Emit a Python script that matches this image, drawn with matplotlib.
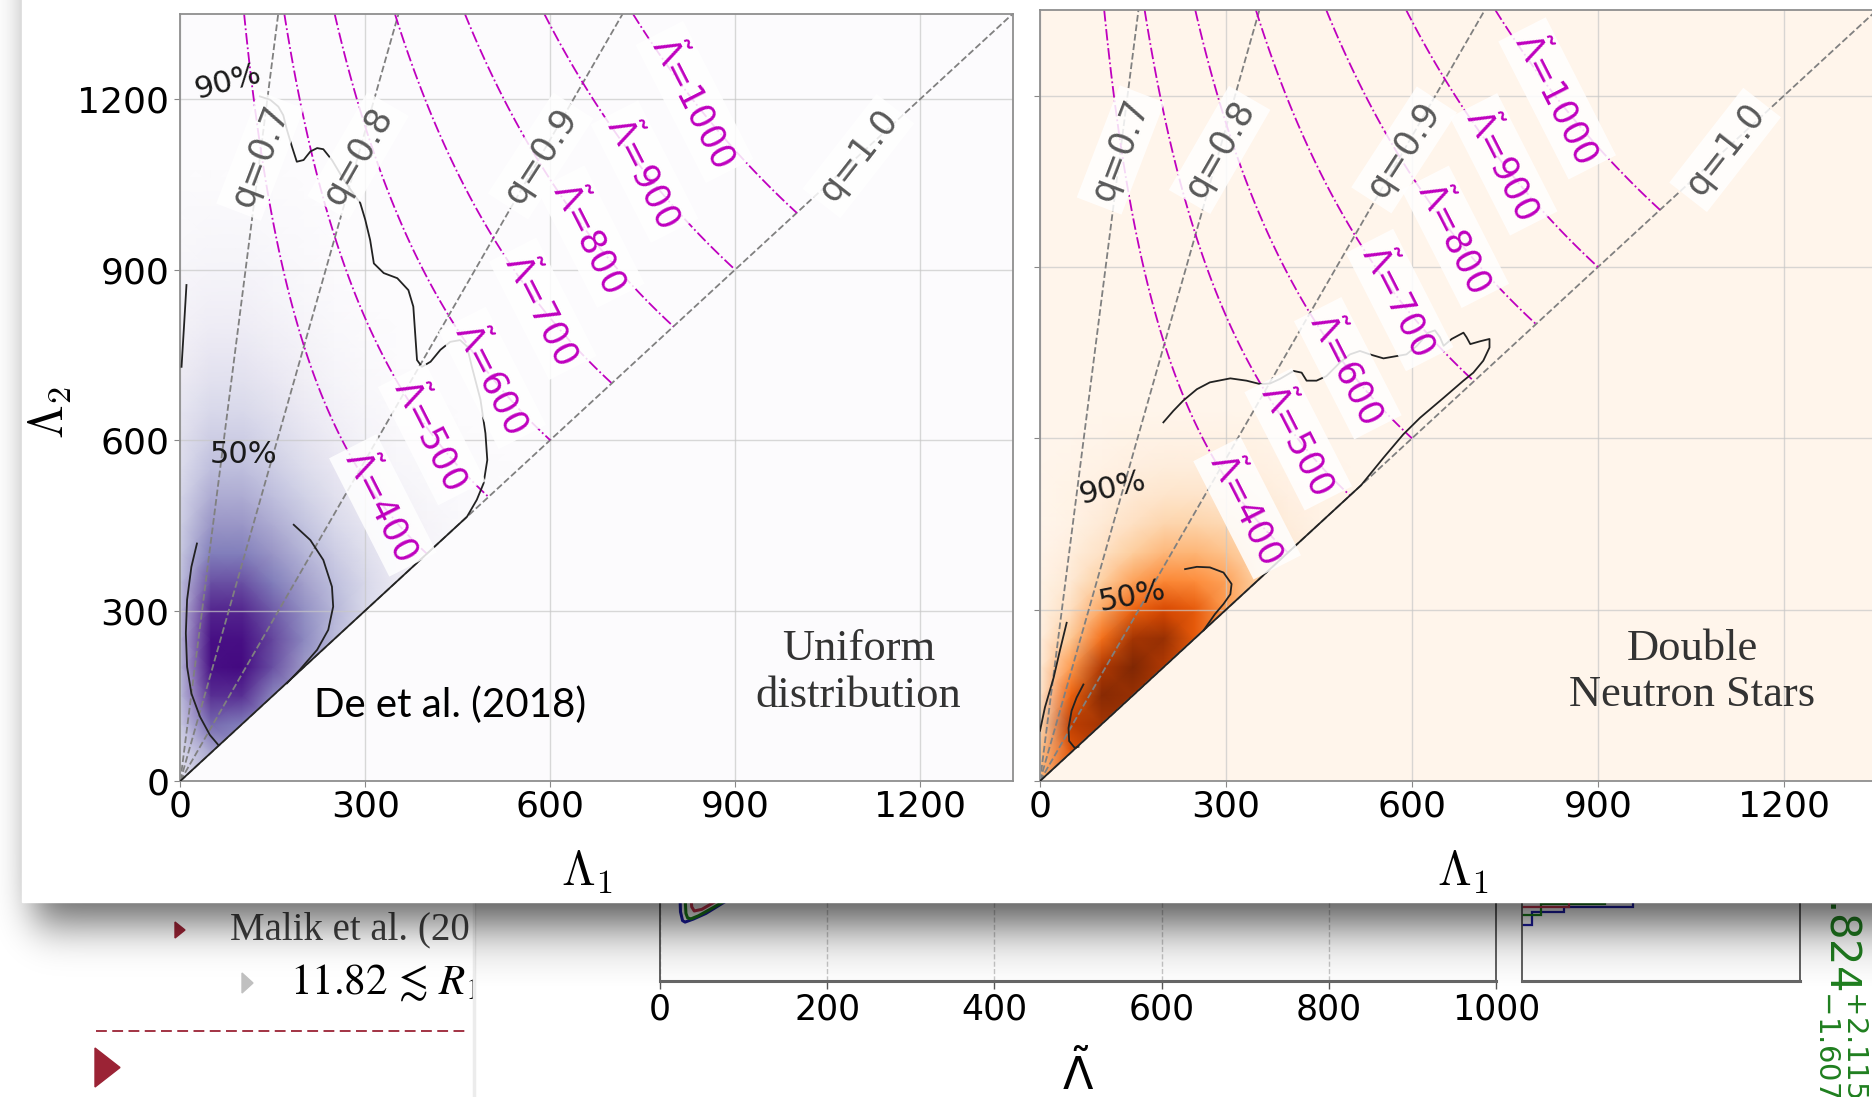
import numpy as np
import matplotlib
matplotlib.use("Agg")
import matplotlib.pyplot as plt
from matplotlib.patches import Rectangle, Polygon

# ---------------------------------------------------------------- data
lam_ticks = [0, 300, 600, 900, 1200]
lam_max = 1350
q_values = [0.7, 0.8, 0.9, 1.0]
lamt_levels = [400, 500, 600, 700, 800, 900, 1000]

# posterior density on a 50 x 50 node grid; row k is Lambda_2 = 50 k,
# entries run over Lambda_1 = 0, 50, ... up to the equal-Lambda diagonal
# (rows not listed are empty)
dens_lam1 = np.arange(0, 651, 50)
dens_lam2 = np.arange(0, 1351, 50)

uniform_density = [
    [0.15],
    [0.25, 0.45],
    [0.32, 0.68, 0.62],
    [0.38, 0.85, 0.85, 0.58],
    [0.40, 0.95, 0.97, 0.75, 0.50],
    [0.40, 0.95, 0.95, 0.78, 0.58, 0.38],
    [0.38, 0.88, 0.88, 0.72, 0.55, 0.40, 0.26],
    [0.36, 0.75, 0.75, 0.62, 0.48, 0.36, 0.26, 0.15],
    [0.33, 0.62, 0.62, 0.52, 0.41, 0.31, 0.22, 0.14, 0.07],
    [0.30, 0.52, 0.52, 0.44, 0.35, 0.26, 0.18, 0.11, 0.06, 0.03],
    [0.27, 0.44, 0.44, 0.37, 0.29, 0.21, 0.14, 0.08, 0.04, 0.02, 0.01],
    [0.24, 0.37, 0.37, 0.31, 0.24, 0.17, 0.10, 0.05, 0.03, 0.01, 0.01, 0.00],
    [0.21, 0.31, 0.31, 0.26, 0.19, 0.13, 0.07, 0.03, 0.02, 0.01, 0.00, 0.00, 0.00],
    [0.18, 0.26, 0.26, 0.21, 0.15, 0.10, 0.05, 0.02, 0.01, 0.00, 0.00, 0.00, 0.00, 0.00],
    [0.15, 0.21, 0.21, 0.17, 0.12, 0.07, 0.03, 0.01],
    [0.12, 0.17, 0.17, 0.13, 0.09, 0.05, 0.02],
    [0.09, 0.13, 0.13, 0.10, 0.06, 0.03, 0.01],
    [0.07, 0.10, 0.10, 0.07, 0.04, 0.02],
    [0.05, 0.07, 0.07, 0.05, 0.03, 0.01],
    [0.03, 0.05, 0.05, 0.03, 0.02],
    [0.02, 0.03, 0.03, 0.02, 0.01],
    [0.01, 0.01, 0.01, 0.01],
]

dns_density = [
    [0.35],
    [0.30, 0.70],
    [0.20, 0.82, 0.88],
    [0.12, 0.65, 0.97, 0.92],
    [0.08, 0.45, 0.85, 1.00, 0.85],
    [0.05, 0.28, 0.60, 0.88, 0.92, 0.68],
    [0.03, 0.17, 0.40, 0.65, 0.75, 0.68, 0.45],
    [0.02, 0.10, 0.25, 0.42, 0.52, 0.50, 0.42, 0.25],
    [0.01, 0.06, 0.15, 0.26, 0.34, 0.35, 0.30, 0.20, 0.10],
    [0.00, 0.03, 0.09, 0.16, 0.22, 0.23, 0.20, 0.14, 0.07, 0.03],
    [0.00, 0.02, 0.05, 0.10, 0.13, 0.14, 0.12, 0.08, 0.04, 0.02, 0.01],
    [0.00, 0.01, 0.03, 0.05, 0.07, 0.07, 0.06, 0.04, 0.02, 0.01, 0.00, 0.00],
    [0.00, 0.00, 0.01, 0.02, 0.03, 0.03, 0.03, 0.02, 0.01, 0.00, 0.00, 0.00, 0.00],
    [0.00] * 14,
]

# credible-region outlines (Lambda_1, Lambda_2)
uniform_c90 = [(129, 1205), (146, 1199), (159, 1187), (167, 1172), (173, 1146), (181, 1117),
               (189, 1090), (200, 1093), (211, 1108), (222, 1114), (232, 1112), (246, 1093),
               (262, 1064), (278, 1038), (292, 1017), (300, 988), (308, 952), (314, 911),
               (330, 894), (352, 885), (370, 864), (378, 835), (381, 788), (384, 741),
               (392, 729), (406, 738), (422, 759), (438, 773), (454, 776), (465, 765),
               (473, 729), (487, 671), (495, 612), (498, 565), (492, 524), (481, 495),
               (465, 465), (449, 449), (0, 0)]
uniform_c90_edge = [(2, 729), (6, 800), (10, 873)]
uniform_c50_a = [(27, 418), (18, 377), (11, 319), (9, 260), (11, 201), (18, 154),
                 (32, 113), (48, 81), (62, 63)]
uniform_c50_b = [(184, 451), (211, 424), (232, 389), (246, 342), (248, 307), (240, 266),
                 (222, 231), (194, 196), (173, 172)]

dns_c90 = [(199, 628), (215, 648), (231, 666), (253, 686), (274, 698), (307, 705),
           (333, 701), (355, 695), (371, 696), (387, 704), (409, 718), (422, 715),
           (430, 701), (446, 701), (462, 709), (484, 733), (500, 747), (516, 753),
           (532, 747), (554, 740), (575, 744), (591, 747), (608, 762), (626, 785),
           (637, 789), (645, 777), (651, 762), (664, 774), (683, 785), (688, 777),
           (694, 765), (710, 770), (725, 774), (725, 759), (715, 736), (699, 715),
           (683, 701), (651, 671), (613, 636), (586, 607), (554, 566), (518, 518), (0, 0)]
dns_c90_edge = [(0, 88), (8, 129), (22, 181), (32, 228), (43, 277)]
dns_c50_a = [(70, 169), (59, 146), (51, 123), (46, 93), (47, 70), (56, 58), (62, 60)]
dns_c50_b = [(234, 371), (253, 375), (274, 374), (296, 365), (309, 345), (307, 327),
             (296, 310), (282, 292), (264, 264)]

# lower corner plot (partly covered)
lower_ticks = [0, 200, 400, 600, 800, 1000]
blob_blue = [(24, 0.52), (24.5, 0.43), (27, 0.375), (30, 0.366), (40, 0.385), (55, 0.42), (75, 0.484), (100, 0.56)]
blob_green = [(30, 0.52), (31, 0.42), (33, 0.392), (37, 0.386), (46, 0.405), (65, 0.46), (88, 0.53)]
blob_red = [(37, 0.52), (38, 0.46), (41, 0.435), (50, 0.445), (65, 0.49), (82, 0.54)]
hist_blue_edges, hist_blue_vals = [0.348, 0.43, 0.46, 0.62], [0.035, 0.15, 0.40]
hist_green_edges, hist_green_vals = [0.41, 0.48, 0.62], [0.07, 0.30]
hist_red_edges, hist_red_vals = [0.46, 0.62], [0.17]

# ---------------------------------------------------------------- figure
W, H = 1872, 1097
fig = plt.figure(figsize=(W / 100, H / 100), dpi=100)
fig.patch.set_facecolor("white")


def px_axes(x0, y0, x1, y1, **kw):
    return fig.add_axes([x0 / W, 1 - y1 / H, (x1 - x0) / W, (y1 - y0) / H], **kw)


def canvas(z):
    ax = px_axes(0, 0, W, H, zorder=z)
    ax.set_xlim(0, W)
    ax.set_ylim(H, 0)
    ax.set_axis_off()
    return ax


# ---- slide underneath
red = "#9b2335"
slide = canvas(0)
slide.add_patch(Polygon([(175, 922), (175, 938), (185, 930)], closed=True, color=red, zorder=1))
slide.text(230, 939, "Malik et al. (2018)", family="Liberation Serif", fontsize=28,
           color="#404040", va="baseline", zorder=1)
slide.add_patch(Polygon([(242, 973), (242, 993), (253, 983)], closed=True, color="#c0c0c0", zorder=1))
slide.text(290, 994, r"$11.82\,\lesssim\,R_{1.4}$", family="Liberation Serif",
           math_fontfamily="stix", fontsize=31, color="black", va="baseline", zorder=1)
slide.plot([96, 468], [1031, 1031], color=red, lw=1.3, dashes=(6, 3), zorder=1)
slide.add_patch(Polygon([(95, 1048), (95, 1087), (120, 1067.5)], closed=True, color=red, zorder=1))
# picture of the corner plot pasted on the slide
slide.add_patch(Rectangle((473, 880), W - 473, H - 880, color="white", zorder=2))
slide.plot([474, 474], [880, H], color="#ececec", lw=2.5, zorder=2)
slide.text(1843, 846, r"$11.824^{+2.115}_{-1.607}$", rotation=-90, ha="center", va="top",
           fontsize=30, color="#1f7f1f", zorder=3)

low = px_axes(660, 820, 1496, 981, zorder=1)
low.set_facecolor("none")
low.set_xlim(0, 1000)
low.set_ylim(0, 1)
low.set_xticks(lower_ticks)
low.set_yticks([])
low.grid(axis="x", ls="--", color="#c8c8c8", lw=1)
low.spines["top"].set_visible(False)
for s in ["left", "right"]:
    low.spines[s].set_color("#555555")
    low.spines[s].set_linewidth(1.3)
low.spines["bottom"].set_color("#666666")
low.spines["bottom"].set_linewidth(2.2)
low.tick_params(axis="x", labelsize=25, length=6, width=1, color="#555555", pad=2)
low.set_xlabel(r"$\tilde{\Lambda}$", fontsize=32)
low.xaxis.set_label_coords(0.5, -0.58)
low.xaxis.label.set_va("center")
for pts, col in [(blob_blue, "#1c1ca6"), (blob_green, "#1a7f1a"), (blob_red, "#c8344e")]:
    xs, ys = zip(*pts)
    low.plot(xs, ys, color=col, lw=2.2)

side = px_axes(1522, 820, 1800, 981, zorder=1)
side.set_facecolor("none")
side.set_xlim(0, 1)
side.set_ylim(0, 1)
side.set_xticks([])
side.set_yticks([])
side.spines["top"].set_visible(False)
for s in ["left", "right"]:
    side.spines[s].set_color("#555555")
    side.spines[s].set_linewidth(1.3)
side.spines["bottom"].set_color("#666666")
side.spines["bottom"].set_linewidth(2.2)
side.stairs(hist_blue_vals, hist_blue_edges, orientation="horizontal", color="#1c1ca6", lw=1.6)
side.stairs(hist_green_vals, hist_green_edges, orientation="horizontal", color="#1a7f1a", lw=1.6)
side.stairs(hist_red_vals, hist_red_edges, orientation="horizontal", color="#c8344e", lw=1.6)


# ---- drop shadow of the figure laid over the slide
def blurred_span(n, lo, hi, sigma):
    pad = int(4 * sigma)
    t = np.arange(-pad, n + pad)
    step = ((t >= lo) & (t < hi)).astype(float)
    k = np.exp(-0.5 * (np.arange(-pad, pad + 1) / sigma) ** 2)
    k /= k.sum()
    return np.convolve(step, k, mode="same")[pad:pad + n]


shadow_layer = canvas(2)
fx = blurred_span(W, 34, 4000, 18)
fy = blurred_span(H, -400, 922, 22)
alpha = 0.62 * fy[:, None] * fx[None, :]
# the pasted corner-plot picture carries its own softer grey fade
rows = np.arange(H)[:, None]
fade = np.clip(1 - (rows - 902) / 85.0, 0, 1) * (rows >= 902) * 0.12
fade = np.broadcast_to(fade, (H, W)) * (np.arange(W)[None, :] >= 475)
alpha = 1 - (1 - alpha) * (1 - fade)
rgba = np.zeros((H, W, 4))
rgba[..., 3] = alpha
shadow_layer.imshow(rgba, extent=(0, W, H, 0), aspect="auto", interpolation="bilinear")

# ---- white sheet carrying the two panels
sheet = canvas(3)
sheet.add_patch(Rectangle((22, -10), W, 912, color="white"))

# ---- the two posterior panels
L1g, L2g = np.meshgrid(np.linspace(0.5, lam_max, 700), np.linspace(0.5, lam_max, 700))
with np.errstate(divide="ignore", invalid="ignore"):
    qg = (L1g / L2g) ** (1 / 6)
    lt_grid = 16 / 13 * ((1 + 12 * qg) * L1g + (qg + 12) * qg ** 4 * L2g) / (1 + qg) ** 5
lt_grid = np.ma.masked_where(L2g < L1g, lt_grid)


def build_density(rows):
    n_rows, n_cols = len(dens_lam2), len(dens_lam1)
    Z = np.zeros((n_rows, n_cols))
    for i, r in enumerate(rows):
        Z[i, :len(r)] = r
    # no support below the diagonal: carry the diagonal value across so the
    # shading stays flat up to the clipped edge
    for i in range(n_rows):
        for j in range(i + 1, n_cols):
            Z[i, j] = Z[j, j]
    return Z


label_box = dict(boxstyle="square,pad=0.2", fc="white", ec="none", alpha=0.85)
q_label_angle = {0.7: 69, 0.8: 60, 0.9: 57, 1.0: 52}
lt_label_angle = -63


def draw_panel(ax, rows, cmap_name, c90, c90_edge, c50a, c50b, pct, q_label_y, lt_pos,
               caption, caption_x, show_ylabels):
    cm = plt.get_cmap(cmap_name)
    ax.set_xlim(0, lam_max)
    ax.set_ylim(0, lam_max)
    ax.set_facecolor(cm(0.0))
    ax.set_axisbelow("line")
    X, Y = np.meshgrid(dens_lam1, dens_lam2)
    mesh = ax.pcolormesh(X, Y, build_density(rows), shading="gouraud", cmap=cm,
                         vmin=0, vmax=1, zorder=1)
    mesh.set_clip_path(Polygon([(0, 0), (0, lam_max), (lam_max, lam_max)], closed=True,
                               transform=ax.transData))
    ax.grid(True, color="#c8c8c8", lw=1.0, alpha=0.7)
    ax.set_xticks(lam_ticks)
    ax.set_yticks(lam_ticks)
    ax.tick_params(labelsize=26, length=4, color="#888888", pad=2)
    ax.tick_params(axis="y", pad=4, labelleft=show_ylabels)
    for s in ax.spines.values():
        s.set_color("#8f8f8f")
        s.set_linewidth(1.3)

    # mass-ratio lines
    for q in q_values:
        ratio = q ** -6
        x_top = lam_max / ratio
        ax.plot([0, x_top], [0, lam_max], ls="--", color="#808080", lw=1.3, zorder=2)
        ax.text(q_label_y / ratio, q_label_y, f"q={q:.1f}", rotation=q_label_angle[q],
                rotation_mode="anchor", ha="center", va="center", fontsize=25,
                color="#595959", bbox=label_box, zorder=4)

    # lines of constant binary tidal deformability
    cs = ax.contour(L1g, L2g, lt_grid, levels=lamt_levels, colors="m", linestyles="-.",
                    linewidths=1.3, zorder=2)
    texts = ax.clabel(cs, levels=lamt_levels, manual=lt_pos, inline=False, fontsize=25,
                      colors="m", fmt=lambda v: r"$\tilde{\Lambda}$=%d" % v)
    for t in texts:
        t.set_rotation(lt_label_angle)
        t.set_rotation_mode("anchor")
        t.set_ha("center")
        t.set_va("center")
        t.set_bbox(label_box)
        t.set_zorder(4)

    for pts in (c90, c90_edge, c50a, c50b):
        xs, ys = zip(*pts)
        ax.plot(xs, ys, color="#222222", lw=1.3, zorder=3)
    for (x, y, s, rot) in pct:
        ax.text(x, y, s, fontsize=22, color="#1a1a1a", ha="center", va="center",
                rotation=rot, zorder=4)

    ax.text(caption_x, 191, caption, family="Liberation Serif", fontsize=32, color="#333333",
            ha="center", va="center", zorder=4)
    ax.set_xlabel(r"$\Lambda_1$", fontsize=35, math_fontfamily="cm")
    ax.xaxis.label.set_va("center")


axL = px_axes(180.3, 14, 1012.5, 781, zorder=4)
axR = px_axes(1040, 10, 1877, 781, zorder=4)

draw_panel(axL, uniform_density, "Purples", uniform_c90, uniform_c90_edge, uniform_c50_a,
           uniform_c50_b, [(76, 1231, "90%", 15), (103, 574, "50%", 0)], 1100,
           [(828, 1190), (750, 1070), (661, 954), (589, 832), (502, 706), (417, 618), (337, 492)],
           "Uniform\ndistribution", 1100, True)
draw_panel(axR, dns_density, "Oranges", dns_c90, dns_c90_edge, dns_c50_a, dns_c50_b,
           [(116, 513, "90%", 13), (148, 323, "50%", 11)], 1105,
           [(835, 1196), (748, 1080), (671, 954), (575, 838), (492, 719), (415, 597), (331, 475)],
           "Double\nNeutron Stars", 1052, False)

axL.xaxis.set_label_coords(0.4887, -0.1185)
axR.xaxis.set_label_coords(0.5054, -0.1178)
axL.set_ylabel(r"$\Lambda_2$", fontsize=35, math_fontfamily="cm")
axL.yaxis.label.set_va("center")
axL.yaxis.set_label_coords(-0.1566, 0.48)
axL.text(438, 134, "De et al. (2018)", family="Lato", fontsize=29, color="black",
         ha="center", va="center", zorder=4)

fig.savefig("out.png", dpi=100)
